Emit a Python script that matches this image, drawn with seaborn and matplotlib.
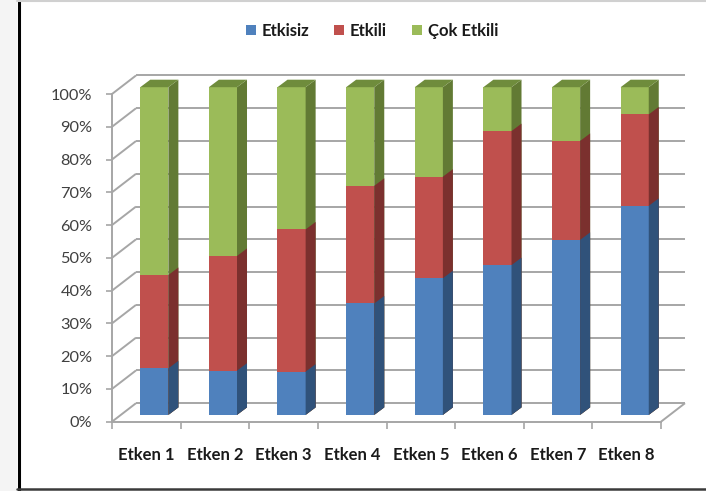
import numpy as np
import seaborn as sns
import matplotlib
matplotlib.use("Agg")
import matplotlib.pyplot as plt
from matplotlib.patches import Polygon, Rectangle, Patch
from matplotlib.lines import Line2D
from matplotlib.transforms import Affine2D

# ---- data -------------------------------------------------------------
categories = ["Etken 1", "Etken 2", "Etken 3", "Etken 4",
              "Etken 5", "Etken 6", "Etken 7", "Etken 8"]
series_names = ["Etkisiz", "Etkili", "Çok Etkili"]
etkisiz = [14.2, 13.5, 13.2, 34.0, 41.7, 45.7, 53.4, 63.8]
etkili = [28.5, 35.0, 43.4, 35.9, 31.0, 40.9, 30.2, 27.9]
cok_etkili = [57.3, 51.5, 43.4, 30.1, 27.3, 13.4, 16.4, 8.3]
y_ticks = list(range(0, 101, 10))
y_tick_labels = [f"{v}%" for v in y_ticks]

colors = ["#4F81BD", "#C0504D", "#9BBB59"]
side_colors = ["#30527A", "#7B302E", "#627A34"]
top_colors = ["#3E6898", "#9A3E3C", "#6F8C3C"]
grid_color = "#A6A6A6"

sns.set_style("white")
plt.rcParams["font.family"] = ["Lato", "DejaVu Sans"]

W, H = 706, 491
fig = plt.figure(figsize=(W / 100, H / 100), dpi=100)
fig.patch.set_facecolor("white")

# front plane of the 3-D box, in pixels
AX_L, AX_B, AX_W, AX_H = 112, 69.3, 549, 327.7
ax = fig.add_axes([AX_L / W, AX_B / H, AX_W / W, AX_H / H])
n = len(categories)
px_x = AX_W / n          # pixels per category
px_y = AX_H / 100.0      # pixels per percent

# depth of the walls and of the bars (pixels -> data units)
wall_dx, wall_dy = 24 / px_x, 18.5 / px_y
bar_off = (8, 6.8)                       # bar front face offset, pixels
bar_dx, bar_dy = 10 / px_x, 7.5 / px_y   # bar depth in data units
bar_trans = ax.transData + Affine2D().translate(*bar_off)

# ---- walls & gridlines -----------------------------------------------
gl = dict(color=grid_color, lw=1.4, clip_on=False, zorder=1, solid_capstyle="butt")
for v in y_ticks:
    # side wall diagonal
    ax.add_line(Line2D([-0.5, -0.5 + wall_dx], [v, v + wall_dy], **gl))
    # back wall line
    ax.add_line(Line2D([-0.5 + wall_dx, n - 0.5 + wall_dx], [v + wall_dy, v + wall_dy], **gl))
# floor right edge
ax.add_line(Line2D([n - 0.5, n - 0.5 + wall_dx], [0, wall_dy], **gl))

# ---- stacked 3-D bars -------------------------------------------------
cum1 = np.array(etkisiz)
cum2 = cum1 + np.array(etkili)
cum3 = cum2 + np.array(cok_etkili)
layers = [(cum3, 2), (cum2, 1), (cum1, 0)]   # drawn back-to-front

for k, (vals, ci) in enumerate(layers):
    z = 3 + 0.1 * k
    start = len(ax.patches)
    sns.barplot(x=categories, y=vals, color=colors[ci], saturation=1,
                width=0.41, errorbar=None, linewidth=0, zorder=z, ax=ax)
    for p in list(ax.patches[start:]):
        p.set_transform(bar_trans)
        p.set_clip_on(False)
        x0, w, h = p.get_x(), p.get_width(), p.get_height()
        x1 = x0 + w
        side = Polygon([(x1, 0), (x1, h), (x1 + bar_dx, h + bar_dy), (x1 + bar_dx, bar_dy)],
                       closed=True, facecolor=side_colors[ci], edgecolor="none",
                       transform=bar_trans, clip_on=False, zorder=z)
        ax.add_patch(side)
        if ci == 2:
            top = Polygon([(x0, h), (x1, h), (x1 + bar_dx, h + bar_dy), (x0 + bar_dx, h + bar_dy)],
                          closed=True, facecolor=top_colors[ci], edgecolor="none",
                          transform=bar_trans, clip_on=False, zorder=z)
            ax.add_patch(top)

# ---- axes ---------------------------------------------------------------
ax.set_xlim(-0.5, n - 0.5)
ax.set_ylim(0, 100)
ax.set_xlabel("")
ax.set_ylabel("")
ax.patch.set_alpha(0)
for s in ["top", "right"]:
    ax.spines[s].set_visible(False)
for s in ["left", "bottom"]:
    ax.spines[s].set_color(grid_color)
    ax.spines[s].set_linewidth(1.4)

ax.set_yticks(y_ticks)
ax.set_yticklabels(y_tick_labels, fontsize=11.8, color="#404040")
ax.tick_params(axis="y", length=4, width=1.2, color=grid_color, pad=10, left=True)

ax.set_xticks(range(n))
ax.set_xticklabels(categories, fontsize=12, fontweight="bold", color="#1A1A1A")
ax.set_xticks(np.arange(-0.5, n, 1), minor=True)
ax.tick_params(axis="x", which="major", length=0, pad=18)
ax.tick_params(axis="x", which="minor", length=5, width=1.2, color=grid_color, bottom=True)

# ---- legend -------------------------------------------------------------
handles = [Patch(facecolor=c, edgecolor="none") for c in colors]
fig.legend(handles, series_names, loc="center", ncol=3, frameon=False,
           bbox_to_anchor=(372 / W, (H - 31) / H),
           prop={"size": 12, "weight": "bold"},
           handlelength=0.6, handleheight=0.6, handletextpad=0.35,
           columnspacing=1.5, labelcolor="#1A1A1A")

# ---- outer frame --------------------------------------------------------
fig.add_artist(Rectangle((0, 0), 17 / W, 1, transform=fig.transFigure,
                         facecolor="#F4F4F4", edgecolor="none", zorder=0))
fig.add_artist(Line2D([18.5 / W, 18.5 / W], [0, 1], transform=fig.transFigure,
                      color="black", lw=2.2))
fig.add_artist(Line2D([17 / W, 1], [1 - 1 / H, 1 - 1 / H], transform=fig.transFigure,
                      color="#D0D0D0", lw=1.5))
fig.add_artist(Line2D([17 / W, 1], [2 / H, 2 / H], transform=fig.transFigure,
                      color="#3A3A3A", lw=1.8))

fig.savefig("out.png", dpi=100)
